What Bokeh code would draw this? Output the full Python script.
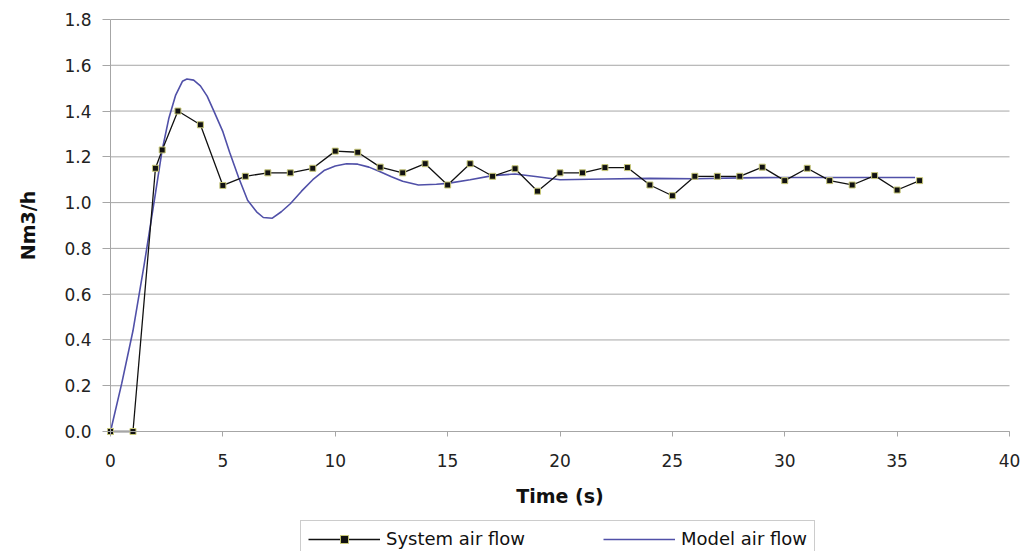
from bokeh.plotting import figure
from bokeh.models import Range1d, Legend, LegendItem, FixedTicker, PrintfTickFormatter
from bokeh.embed import file_html
from bokeh.resources import INLINE

# System air flow (measured)
sys_time = [0, 1, 2, 2.3, 3, 4, 5, 6, 7, 8, 9, 10, 11, 12, 13, 14, 15, 16, 17, 18,
            19, 20, 21, 22, 23, 24, 25, 26, 27, 28, 29, 30, 31, 32, 33, 34, 35, 36]
sys_flow = [0.0, 0.0, 1.15, 1.23, 1.40, 1.34, 1.075, 1.115, 1.13, 1.13, 1.15, 1.225,
            1.22, 1.155, 1.13, 1.17, 1.077, 1.17, 1.115, 1.148, 1.05, 1.13, 1.13,
            1.153, 1.153, 1.077, 1.03, 1.115, 1.115, 1.115, 1.155, 1.096, 1.15,
            1.096, 1.077, 1.118, 1.055, 1.096]

# Model air flow
model_time = [0, 0.5, 1.0, 1.5, 2.0, 2.3, 2.6, 2.9, 3.2, 3.4, 3.7, 4.0, 4.3, 4.6,
              5.0, 5.3, 5.7, 6.1, 6.5, 6.8, 7.2, 7.6, 8.0, 8.5, 9.0, 9.5, 10.0,
              10.5, 11.0, 11.5, 12.0, 12.5, 13.0, 13.7, 14.5, 15.0, 16.0, 17.0,
              18.0, 19.0, 20.0, 22.0, 24.0, 26.0, 28.0, 30.0, 32.0, 34.0, 35.8]
model_flow = [0.0, 0.21, 0.44, 0.73, 1.04, 1.23, 1.37, 1.47, 1.53, 1.54, 1.535,
              1.51, 1.465, 1.40, 1.31, 1.22, 1.11, 1.01, 0.96, 0.935, 0.932, 0.96,
              0.995, 1.05, 1.10, 1.14, 1.16, 1.17, 1.168, 1.155, 1.135, 1.113,
              1.093, 1.077, 1.08, 1.084, 1.10, 1.118, 1.125, 1.113, 1.10, 1.103,
              1.106, 1.104, 1.108, 1.11, 1.11, 1.11, 1.11]

x_ticks = [0, 5, 10, 15, 20, 25, 30, 35, 40]
y_ticks = [0.0, 0.2, 0.4, 0.6, 0.8, 1.0, 1.2, 1.4, 1.6, 1.8]

FONT = "DejaVu Sans"
GRID = "#a6a6a6"

# Layout (pixels): the data box 0..40 x 0..1.8 sits at x 110..1009, y 19..431.
# The frame covers the whole figure so the axis texts and the legend, which
# lie outside the data box, are drawn inside it.
W, H = 1020, 551
BOX_L, BOX_R, BOX_T, BOX_B = 110, 1009, 19, 431
ppx = (BOX_R - BOX_L) / 40.0
ppy = (BOX_B - BOX_T) / 1.8
x_lo, x_hi = -BOX_L / ppx, 40 + (W - BOX_R) / ppx
y_lo, y_hi = -(H - BOX_B) / ppy, 1.8 + BOX_T / ppy

p = figure(width=W, height=H, output_backend="svg", toolbar_location=None,
           x_range=Range1d(x_lo, x_hi), y_range=Range1d(y_lo, y_hi),
           min_border_left=0, min_border_right=0, min_border_top=0,
           min_border_bottom=0)
p.outline_line_color = None
p.background_fill_color = "white"
p.border_fill_color = "white"
p.xgrid.visible = False
p.ygrid.visible = False

# horizontal gridlines at the y ticks, spanning the x axis from first to last tick
n = len(y_ticks)
p.segment(x0=[x_ticks[0]] * n, x1=[x_ticks[-1]] * n, y0=y_ticks, y1=y_ticks,
          line_color=GRID, line_width=1)

p.xaxis.ticker = FixedTicker(ticks=x_ticks)
p.yaxis.ticker = FixedTicker(ticks=y_ticks)
p.yaxis.formatter = PrintfTickFormatter(format="%.1f")

for ax in (p.xaxis, p.yaxis):
    ax.axis_line_color = GRID
    ax.major_tick_line_color = GRID
    ax.minor_tick_line_color = None
    ax.major_tick_in = 0
    ax.major_label_text_font = FONT
    ax.major_label_text_font_size = "17px"
    ax.major_label_text_color = "#222222"
    ax.axis_label_text_font = FONT
    ax.axis_label_text_font_style = "bold"
    ax.axis_label_text_font_size = "19px"
    ax.axis_label_text_color = "#111111"

p.yaxis.fixed_location = 0
p.yaxis.bounds = (0, 1.8)
p.yaxis.major_tick_out = 8
p.yaxis.major_label_standoff = 11
p.yaxis.axis_label = "Nm3/h"
p.yaxis.axis_label_standoff = 22

p.xaxis.fixed_location = 0
p.xaxis.bounds = (0, 40)
p.xaxis.major_tick_out = 5
p.xaxis.major_label_standoff = 17
p.xaxis.axis_label = "Time (s)"
p.xaxis.axis_label_standoff = 15

r_model = p.line(model_time, model_flow, line_color="#5050a8", line_width=1.6)
r_sys_line = p.line(sys_time, sys_flow, line_color="#111111", line_width=1.3)
r_sys_mark = p.scatter(sys_time, sys_flow, marker="square", size=6,
                       fill_color="#111111", line_color="#c8c878", line_width=1)

legend = Legend(items=[LegendItem(label="System air flow", renderers=[r_sys_line, r_sys_mark]),
                       LegendItem(label="Model air flow", renderers=[r_model])],
                orientation="horizontal", location=(300, -6),
                glyph_width=72, glyph_height=20, label_height=20,
                label_standoff=6, spacing=78, padding=7, margin=0,
                label_text_font=FONT, label_text_font_size="18px",
                label_text_color="#111111",
                border_line_color="#999999", border_line_width=1,
                background_fill_color="white", background_fill_alpha=1)
p.add_layout(legend, "center")

open("out.html", "w").write(file_html(p, INLINE))
